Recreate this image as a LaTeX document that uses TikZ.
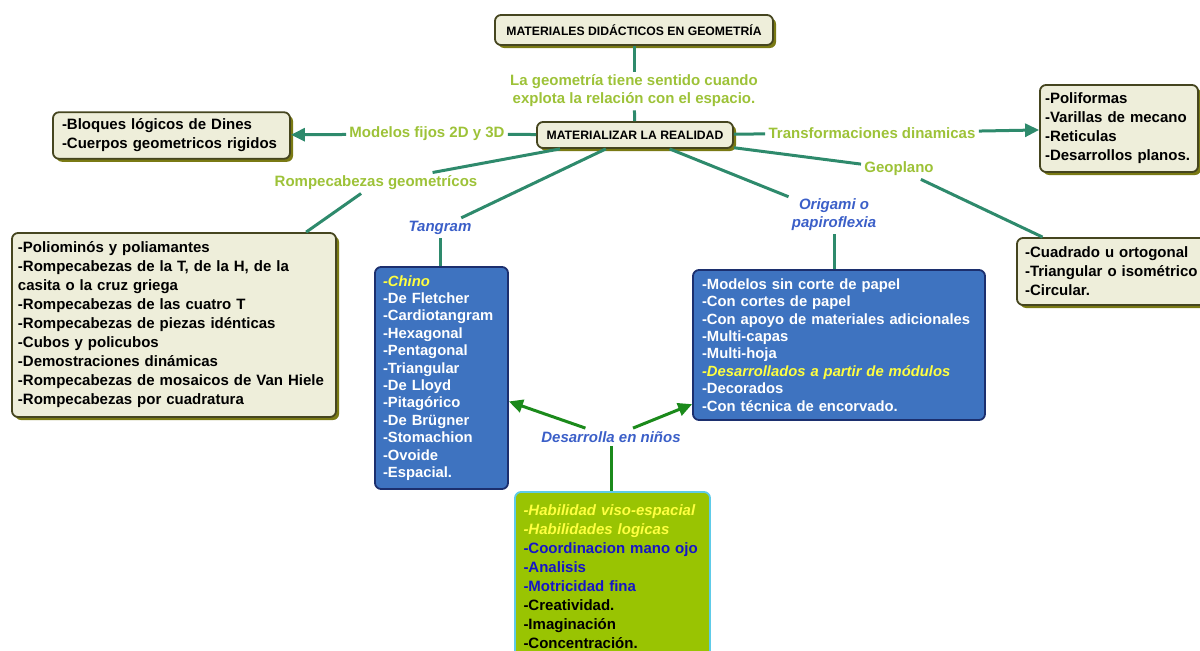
\documentclass[tikz,border=0pt]{standalone}
\usepackage{fontspec}
\setmainfont{Liberation Sans}
\usetikzlibrary{arrows.meta,shadows}
\definecolor{clink}{HTML}{2E8A6C}
\definecolor{clabel}{HTML}{9DC238}
\definecolor{cblue}{HTML}{3B5FC8}
\definecolor{cbeige}{HTML}{EEEEDA}
\definecolor{cborder}{HTML}{45451F}
\definecolor{cshadow}{HTML}{7A7A14}
\definecolor{cboxblue}{HTML}{3E73C0}
\definecolor{cnavy}{HTML}{1C2F6E}
\definecolor{cgreen}{HTML}{99C402}
\definecolor{ccyan}{HTML}{5ECBE8}
\definecolor{cyel}{HTML}{FFFF40}
\definecolor{cdeep}{HTML}{1515C8}
\definecolor{carrow}{HTML}{1B8A1B}
\newcommand{\mapfont}{\fontsize{7.5}{9.5}\selectfont\bfseries}
\newcommand{\capfont}{\fontsize{6.1}{7}\selectfont\bfseries}

\begin{document}
\begin{tikzpicture}[x=0.5pt,y=0.5pt,
  beigebox/.style={draw=cborder, line width=0.9pt, fill=cbeige, rounded corners=3pt,
    drop shadow={shadow xshift=1.5pt, shadow yshift=-1.5pt, fill=cshadow, opacity=1},
    align=left, font=\mapfont},
  bluebox/.style={draw=cnavy, line width=0.9pt, fill=cboxblue, rounded corners=3pt,
    align=left, text=white, font=\fontsize{7.4}{8.7}\selectfont\bfseries},
  greenbox/.style={draw=ccyan, line width=0.9pt, fill=cgreen, rounded corners=3pt,
    align=left, font=\mapfont},
  linklabel/.style={text=clabel, inner sep=1.5pt, font=\mapfont},
  bluelabel/.style={text=cblue, inner sep=1.5pt, font=\mapfont\itshape},
  link/.style={draw=clink, line width=1.5pt},
  linkarrow/.style={link, -{Triangle[length=7pt,width=6.5pt]}},
  kidarrow/.style={draw=carrow, line width=1.5pt, -{Triangle[length=7pt,width=6.5pt]}},
  kidline/.style={draw=carrow, line width=1.5pt}]
  \useasboundingbox (0,0) rectangle (1200,650);

  % boxes
  \node[beigebox, minimum width=139pt, minimum height=15pt, font=\capfont] (title) at (634,620)
        {MATERIALES DIDÁCTICOS EN GEOMETRÍA};
  \node[beigebox, minimum width=98pt, minimum height=13pt, font=\capfont] (real) at (635,515)
        {MATERIALIZAR LA REALIDAD};
  \node[beigebox, text width=109.5pt, inner xsep=4.5pt, minimum height=22.5pt] (fixed) at (171.5,514.5)
        {-Bloques lógicos de Dines\\-Cuerpos geometricos rigidos};
  \node[beigebox, text width=74pt, inner xsep=2.5pt, minimum height=43.5pt] (dyn) at (1119,521.5)
        {-Poliformas\\-Varillas de mecano\\-Reticulas\\-Desarrollos planos.};
  \node[beigebox, text width=156pt, inner xsep=3pt, minimum height=92pt] (puzzles) at (174,325)
        {-Poliominós y poliamantes\\-Rompecabezas de la T, de la H, de la\\casita o la cruz griega\\
         -Rompecabezas de las cuatro T\\-Rompecabezas de piezas idénticas\\-Cubos y policubos\\
         -Demostraciones dinámicas\\-Rompecabezas de mosaicos de Van Hiele\\-Rompecabezas por cuadratura};
  \node[beigebox, text width=90pt, inner xsep=4pt, minimum height=33.5pt] (geobox) at (1115,378.5)
        {-Cuadrado u ortogonal\\-Triangular o isométrico\\-Circular.};
  \node[bluebox, text width=58.5pt, inner xsep=4pt, minimum height=111pt] (tangbox) at (441.5,272)
        {{\color{cyel}\itshape -Chino}\\-De Fletcher\\-Cardiotangram\\-Hexagonal\\-Pentagonal\\-Triangular\\
         -De Lloyd\\-Pitagórico\\-De Brügner\\-Stomachion\\-Ovoide\\-Espacial.};
  \node[bluebox, text width=137pt, inner xsep=4.5pt, minimum height=75pt] (origbox) at (839,305)
        {-Modelos sin corte de papel\\-Con cortes de papel\\-Con apoyo de materiales adicionales\\
         -Multi-capas\\-Multi-hoja\\{\color{cyel}\itshape -Desarrollados a partir de módulos}\\
         -Decorados\\-Con técnica de encorvado.};
  \node[greenbox, text width=89pt, inner xsep=4.25pt, minimum height=85pt] (kidbox) at (612.5,73)
        {{\color{cyel}\itshape -Habilidad viso-espacial}\\{\color{cyel}\itshape -Habilidades logicas}\\
         {\color{cdeep}-Coordinacion mano ojo}\\{\color{cdeep}-Analisis}\\{\color{cdeep}-Motricidad fina}\\
         -Creatividad.\\-Imaginación\\-Concentración.};

  % labels
  \node[linklabel, align=center, font=\fontsize{7.5}{9}\selectfont\bfseries] (sense) at (634,559)
        {La geometría tiene sentido cuando\\explota la relación con el espacio.};
  \node[linklabel] (fixlbl) at (427,516) {Modelos fijos 2D y 3D};
  \node[linklabel] (dynlbl) at (872,517) {Transformaciones dinamicas};
  \node[linklabel] (puzlbl) at (376,467) {Rompecabezas geometrícos};
  \node[linklabel] (geolbl) at (899,481) {Geoplano};
  \node[bluelabel] (tanglbl) at (440,422) {Tangram};
  \node[bluelabel, align=center, font=\fontsize{7.5}{9}\selectfont\bfseries\itshape] (origlbl) at (834,435)
        {Origami o\\papiroflexia};
  \node[bluelabel] (kidlbl) at (611,213) {Desarrolla en niños};

  % connectors
  \draw[link] (title) -- (sense);
  \draw[link] (sense) -- (real);
  \draw[link] (real) -- (fixlbl);
  \draw[linkarrow] (fixlbl) -- (fixed);
  \draw[link] (real) -- (dynlbl);
  \draw[linkarrow] (dynlbl) -- (dyn);
  \draw[link] (real) -- (puzlbl);
  \draw[link] (puzlbl) -- (puzzles);
  \draw[link] (real) -- (tanglbl);
  \draw[link] (tanglbl) -- (tanglbl |- tangbox.north);
  \draw[link] (real) -- (origlbl);
  \draw[link] (origlbl) -- (origlbl |- origbox.north);
  \draw[link] (real) -- (geolbl);
  \draw[link] (geolbl) -- (geobox);
  \draw[kidarrow] (kidlbl) -- (tangbox);
  \draw[kidarrow] (kidlbl) -- (origbox);
  \draw[kidline] (kidlbl) -- (kidlbl |- kidbox.north);
\end{tikzpicture}
\end{document}
